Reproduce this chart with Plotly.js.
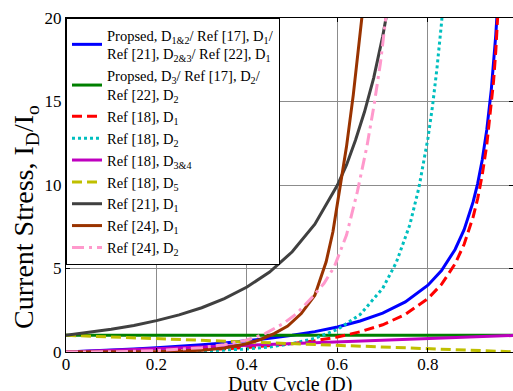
<!DOCTYPE html>
<html>
<head>
<meta charset="utf-8">
<script src="https://cdn.plot.ly/plotly-3.0.1.min.js"></script>
<style>
  html, body { margin: 0; padding: 0; background: #fff; }
  #chart { width: 513px; height: 391px; }
</style>
</head>
<body>
<div id="chart"></div>
<script>
// Normalised current stress I_D/I_o versus duty cycle D for each diode.

// Proposed D1&2 / Ref [17] D1 / Ref [21] D2&3 / Ref [22] D1
const dBlue = [0, 0.05, 0.1, 0.15, 0.2, 0.25, 0.3, 0.35, 0.4, 0.45, 0.5, 0.55, 0.6, 0.65, 0.7, 0.75, 0.8, 0.83, 0.86, 0.88, 0.9, 0.91, 0.92, 0.93, 0.94, 0.945, 0.95, 0.955];
const vBlue = [0, 0.05, 0.11, 0.18, 0.25, 0.33, 0.43, 0.54, 0.67, 0.82, 1.0, 1.22, 1.5, 1.86, 2.33, 3.0, 4.0, 4.88, 6.14, 7.33, 9.0, 10.1, 11.5, 13.3, 15.7, 17.2, 19.0, 21.2];

// Proposed D3 / Ref [17] D2 / Ref [22] D2
const dGreen = [0, 0.5, 1.0];
const vGreen = [1, 1, 1];

// Ref [18] D1
const dRed = [0, 0.05, 0.1, 0.15, 0.2, 0.25, 0.3, 0.35, 0.4, 0.45, 0.5, 0.55, 0.6, 0.65, 0.7, 0.75, 0.8, 0.83, 0.86, 0.88, 0.9, 0.91, 0.92, 0.93, 0.94, 0.945, 0.95, 0.955, 0.96];
const vRed = [0, 0.003, 0.011, 0.026, 0.05, 0.083, 0.13, 0.19, 0.27, 0.37, 0.5, 0.67, 0.9, 1.21, 1.63, 2.25, 3.2, 4.05, 5.28, 6.45, 8.1, 9.2, 10.6, 12.4, 14.7, 16.2, 18.05, 20.3, 23.0];

// Ref [18] D2
const dCyan = [0, 0.1, 0.2, 0.3, 0.35, 0.4, 0.45, 0.5, 0.55, 0.6, 0.65, 0.7, 0.73, 0.76, 0.78, 0.8, 0.81, 0.82, 0.83, 0.835];
const vCyan = [0, 0.001, 0.013, 0.055, 0.10, 0.18, 0.30, 0.5, 0.82, 1.35, 2.24, 3.81, 5.36, 7.62, 9.83, 12.8, 14.7, 17.0, 19.7, 21.4];

// Ref [18] D3&4
const dMagenta = [0, 0.5, 1.0];
const vMagenta = [0, 0.5, 1.0];

// Ref [18] D5
const dYellow = [0, 0.5, 1.0];
const vYellow = [1.0, 0.5, 0];

// Ref [21] D1
const dGray = [0, 0.05, 0.1, 0.15, 0.2, 0.25, 0.3, 0.35, 0.4, 0.45, 0.5, 0.55, 0.6, 0.62, 0.64, 0.66, 0.68, 0.7, 0.71];
const vGray = [1.0, 1.16, 1.36, 1.59, 1.88, 2.22, 2.65, 3.2, 3.89, 4.79, 6.0, 7.65, 10.0, 11.2, 12.7, 14.4, 16.4, 18.9, 20.4];

// Ref [24] D1
const dBrown = [0, 0.1, 0.2, 0.25, 0.3, 0.35, 0.4, 0.43, 0.46, 0.49, 0.52, 0.55, 0.575, 0.59, 0.607, 0.62, 0.635, 0.645, 0.655, 0.66];
const vBrown = [0, 0.002, 0.02, 0.05, 0.11, 0.24, 0.49, 0.75, 1.1, 1.55, 2.3, 3.4, 5.4, 7.2, 10.0, 12.3, 15.4, 17.8, 20.2, 21.5];

// Ref [24] D2
const dPink = [0, 0.1, 0.2, 0.25, 0.3, 0.35, 0.4, 0.44, 0.48, 0.51, 0.545, 0.57, 0.593, 0.62, 0.644, 0.665, 0.681, 0.695, 0.707, 0.712];
const vPink = [0, 0.01, 0.08, 0.15, 0.26, 0.44, 0.72, 1.1, 1.7, 2.3, 3.3, 4.1, 5.1, 7.0, 9.6, 12.3, 14.8, 17.3, 20.0, 21.2];

const seriesNames = [
  'Propsed, D<sub>1&2</sub>/ Ref [17], D<sub>1</sub>/<br>Ref [21], D<sub>2&3</sub>/ Ref [22], D<sub>1</sub>',
  'Propsed, D<sub>3</sub>/ Ref [17], D<sub>2</sub>/<br>Ref [22], D<sub>2</sub>',
  'Ref [18], D<sub>1</sub>',
  'Ref [18], D<sub>2</sub>',
  'Ref [18], D<sub>3&4</sub>',
  'Ref [18], D<sub>5</sub>',
  'Ref [21], D<sub>1</sub>',
  'Ref [24], D<sub>1</sub>',
  'Ref [24], D<sub>2</sub>'
];

const xTicks = [0, 0.2, 0.4, 0.6, 0.8];
const xTickText = ['0', '0.2', '0.4', '0.6', '0.8'];
const yTicks = [0, 5, 10, 15, 20];

const serif = 'Liberation Serif';

function curve(x, y, name, color, dash) {
  return {
    type: 'scatter', mode: 'lines', x: x, y: y, name: name,
    line: { color: color, width: 3, dash: dash || 'solid' }
  };
}

const traces = [
  curve(dBlue, vBlue, seriesNames[0], '#0000ff'),
  curve(dGreen, vGreen, seriesNames[1], '#008000'),
  curve(dRed, vRed, seriesNames[2], '#ff0000', '10px,5px'),
  curve(dCyan, vCyan, seriesNames[3], '#00bfbf', '3px,3px'),
  curve(dMagenta, vMagenta, seriesNames[4], '#bf00bf'),
  curve(dYellow, vYellow, seriesNames[5], '#bfbf00', '10px,5px'),
  curve(dGray, vGray, seriesNames[6], '#404040'),
  curve(dBrown, vBrown, seriesNames[7], '#993300'),
  curve(dPink, vPink, seriesNames[8], '#ff99cc', '12px,5px,3px,5px')
];

// plot area spans x 66..513 px and y 18..352 px
const layout = {
  width: 513, height: 391,
  margin: { l: 66, r: 0, t: 18, b: 39 },
  paper_bgcolor: '#ffffff', plot_bgcolor: '#ffffff',
  font: { family: serif, size: 17, color: '#000' },
  showlegend: true,
  legend: {
    x: 0, y: 1, xanchor: 'left', yanchor: 'top',
    bgcolor: '#ffffff', bordercolor: '#000000', borderwidth: 1,
    font: { family: serif, size: 14.5, color: '#000' },
    tracegroupgap: 0
  },
  xaxis: {
    range: [0, 0.988],
    tickvals: xTicks, ticktext: xTickText,
    showgrid: true, gridcolor: '#8c8c8c', gridwidth: 1,
    zeroline: false,
    showline: true, linecolor: '#000', linewidth: 1, mirror: 'ticks',
    ticks: 'inside', ticklen: 4, tickcolor: '#000',
    ticklabelstandoff: -3,
    tickfont: { family: serif, size: 17, color: '#000' }
  },
  yaxis: {
    range: [0, 20],
    tickvals: yTicks,
    showgrid: true, gridcolor: '#8c8c8c', gridwidth: 1,
    zeroline: false,
    showline: true, linecolor: '#000', linewidth: 1, mirror: 'ticks',
    ticks: 'inside', ticklen: 4, tickcolor: '#000',
    tickfont: { family: serif, size: 17, color: '#000' }
  },
  annotations: [
    {
      text: 'Duty Cycle (D)',
      xref: 'paper', yref: 'paper',
      x: 0.5, y: -0.057,
      xanchor: 'center', yanchor: 'top',
      showarrow: false,
      font: { family: serif, size: 20, color: '#000' }
    },
    {
      text: 'Current Stress, I<sub>D</sub>/I<sub>o</sub>',
      xref: 'paper', yref: 'paper',
      x: -0.092, y: 0.404, xanchor: 'center', yanchor: 'middle',
      textangle: -90, showarrow: false,
      font: { family: serif, size: 28, color: '#000' }
    }
  ]
};

Plotly.newPlot('chart', traces, layout, { staticPlot: true, displayModeBar: false });
</script>
</body>
</html>
